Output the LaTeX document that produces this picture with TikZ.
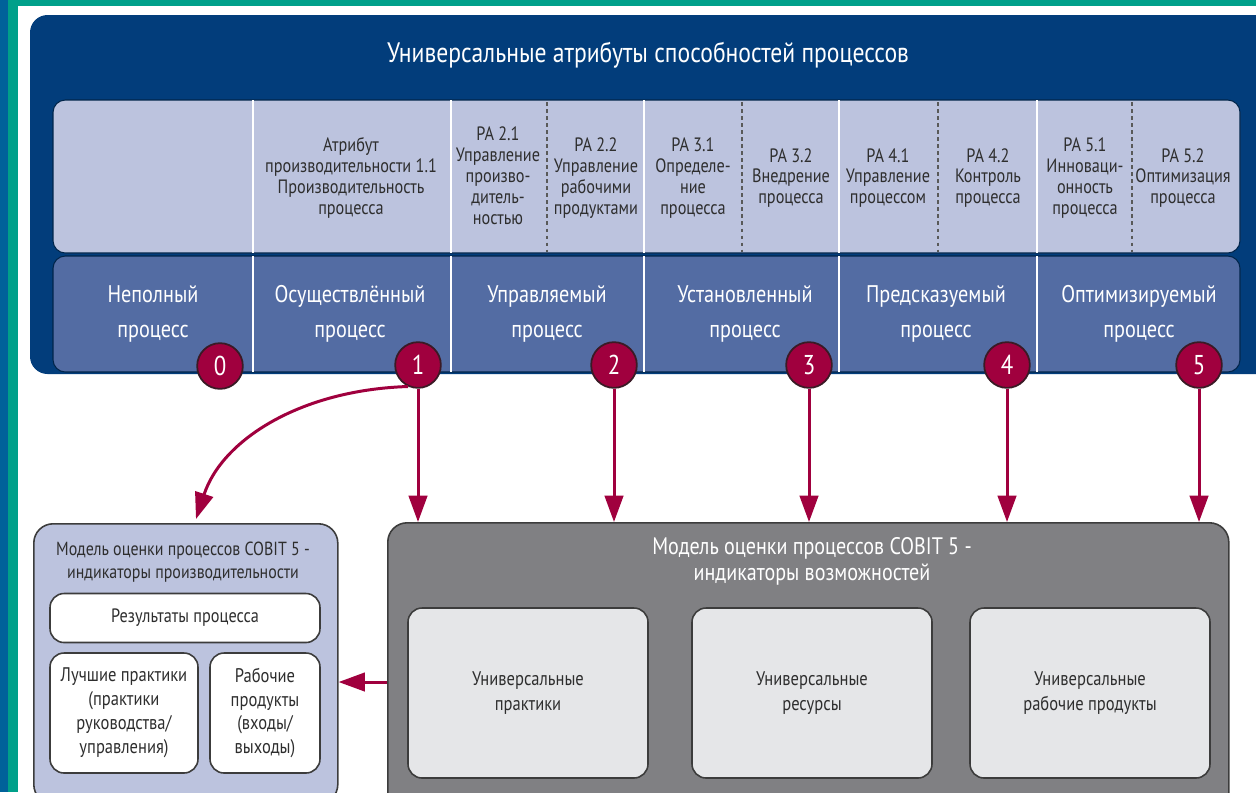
\documentclass[tikz,border=0pt]{standalone}
\usepackage{fontspec}
\setmainfont{PT Sans}[FakeStretch=0.84]
\usetikzlibrary{arrows.meta}

\definecolor{edgeblue}{HTML}{00629A}
\definecolor{edgeteal}{HTML}{00A08A}
\definecolor{navy}{HTML}{023D7B}
\definecolor{attrband}{HTML}{BCC3DE}
\definecolor{levelband}{HTML}{536CA3}
\definecolor{crimson}{HTML}{A0003E}
\definecolor{badgerim}{HTML}{3A1A25}
\definecolor{inkgray}{HTML}{2E2E2E}
\definecolor{panelgray}{HTML}{808083}
\definecolor{cardgray}{HTML}{E5E6E8}
\definecolor{rimgray}{HTML}{3C3C3C}

\tikzset{
  attr/.style={text=inkgray, align=center, inner sep=0pt,
    font=\fontsize{11}{11.9}\selectfont},
  level/.style={text=white, align=center, inner sep=0pt,
    font=\fontsize{13.7}{19.8}\selectfont},
  badge/.style={circle, fill=crimson, draw=badgerim, line width=1pt,
    minimum size=26pt, inner sep=0pt, text=white,
    font=\fontsize{15.5}{16}\selectfont},
  link/.style={draw=crimson, line width=1.7pt,
    -{Triangle[width=10.5pt,length=15pt]}},
  colsep/.style={draw=white, line width=0.8pt},
  subsep/.style={draw=gray!70!black, line width=1.1pt, dash pattern=on 2pt off 2pt},
  card/.style={draw=rimgray, line width=0.9pt, rounded corners=8pt},
  cardtext/.style={text=inkgray, align=center,
    font=\fontsize{11.2}{14.2}\selectfont},
}

\begin{document}
\begin{tikzpicture}[x=0.02cm, y=-0.02cm]
\useasboundingbox (0,0) rectangle (1256,792);

% frame stripes
\fill[white] (0,0) rectangle (1256,792);
\fill[edgeteal] (0,0) rectangle (1256,6);
\fill[edgeblue] (0,0) rectangle (8,792);
\fill[edgeteal] (8,0) rectangle (18,792);

% outer attribute panel
\fill[navy, rounded corners=10pt] (30,15) rectangle (1290,374);
\node[text=white, font=\fontsize{16}{17}\selectfont] (title) at (648,55)
  {Универсальные атрибуты способностей процессов};

% attribute band
\filldraw[fill=attrband, draw=navy!60!black, line width=0.6pt, rounded corners=7pt]
  (53,100) rectangle (1240,253);
% level band
\filldraw[fill=levelband, draw=navy!60!black, line width=0.6pt, rounded corners=7pt]
  (53,256) rectangle (1240,372);

% column separators
\foreach \x in {253,451,644,839,1037}{
  \draw[colsep] (\x,100) -- (\x,253);
  \draw[colsep] (\x,256) -- (\x,372);
}
\foreach \x in {547,742,938,1132}{
  \draw[subsep] (\x,102) -- (\x,252);
}

% attribute texts
\node[attr] (pa11) at (351,178) {Атрибут\\производительности 1.1\\Производительность\\процесса};
\node[attr] (pa21) at (498,176) {PA 2.1\\Управление\\произво-\\дитель-\\ностью};
\node[attr] (pa22) at (596,178) {PA 2.2\\Управление\\рабочими\\продуктами};
\node[attr] (pa31) at (693,178) {PA 3.1\\Определе-\\ние\\процесса};
\node[attr] (pa32) at (791,178) {PA 3.2\\Внедрение\\процесса};
\node[attr] (pa41) at (888,178) {PA 4.1\\Управление\\процессом};
\node[attr] (pa42) at (988,178) {PA 4.2\\Контроль\\процесса};
\node[attr] (pa51) at (1085,178) {PA 5.1\\Инноваци-\\онность\\процесса};
\node[attr] (pa52) at (1183,178) {PA 5.2\\Оптимизация\\процесса};

% level texts
\node[level] (l0) at (153,314) {Неполный\\процесс};
\node[level] (l1) at (350,314) {Осуществлённый\\процесс};
\node[level] (l2) at (547,314) {Управляемый\\процесс};
\node[level] (l3) at (745,314) {Установленный\\процесс};
\node[level] (l4) at (936,314) {Предсказуемый\\процесс};
\node[level] (l5) at (1139,314) {Оптимизируемый\\процесс};

% capability indicator panel
\node[draw=rimgray, fill=panelgray, line width=0.9pt, rounded corners=11pt,
  minimum width=841*0.02cm, minimum height=290*0.02cm, anchor=north west,
  inner sep=0pt] (cap) at (387,522) {};
\node[text=white, align=center, font=\fontsize{13.6}{14.8}\selectfont] (captitle)
  at (812,561) {Модель оценки процессов COBIT 5 -\\индикаторы возможностей};
\node[card, fill=cardgray, minimum width=240*0.02cm, minimum height=170*0.02cm,
  cardtext] (gp) at (528,693) {Универсальные\\практики};
\node[card, fill=cardgray, minimum width=240*0.02cm, minimum height=170*0.02cm,
  cardtext] (gr) at (812,693) {Универсальные\\ресурсы};
\node[card, fill=cardgray, minimum width=240*0.02cm, minimum height=170*0.02cm,
  cardtext] (gw) at (1090,693) {Универсальные\\рабочие продукты};

% performance indicator panel
\node[draw=rimgray, fill=attrband, line width=0.9pt, rounded corners=11pt,
  minimum width=304*0.02cm, minimum height=280*0.02cm, anchor=north west,
  inner sep=0pt] (perf) at (33,523) {};
\node[text=inkgray, align=center, font=\fontsize{10.8}{13}\selectfont] (perftitle)
  at (183,562) {Модель оценки процессов COBIT 5 -\\индикаторы производительности};
\node[card, fill=white, minimum width=270*0.02cm, minimum height=49*0.02cm,
  cardtext, font=\fontsize{11}{13}\selectfont] (res) at (185,618) {Результаты процесса};
\node[card, fill=white, minimum width=148*0.02cm, minimum height=120*0.02cm,
  cardtext, font=\fontsize{11.2}{13.6}\selectfont] (bp) at (124,713)
  {Лучшие практики\\(практики\\руководства/\\управления)};
\node[card, fill=white, minimum width=110*0.02cm, minimum height=120*0.02cm,
  cardtext, font=\fontsize{11.2}{13.6}\selectfont] (wp) at (265,713)
  {Рабочие\\продукты\\(входы/\\выходы)};

% level badges
\node[badge] (c0) at (220,366) {0};
\node[badge] (c1) at (418,365) {1};
\node[badge] (c2) at (614,365) {2};
\node[badge] (c3) at (809,365) {3};
\node[badge] (c4) at (1007,365) {4};
\node[badge] (c5) at (1199,365) {5};

% connectors
\coordinate (perfpin) at (196,519);
\coordinate (sidey) at (0,682);
\draw[link] (c1.245) .. controls (300,390) and (222,440) .. (perfpin);
\foreach \c in {c1,c2,c3,c4,c5}{
  \draw[link] (\c.south) -- (\c.south |- cap.north);
}
\draw[link] (cap.west |- sidey) -- (perf.east |- sidey);
\end{tikzpicture}
\end{document}
